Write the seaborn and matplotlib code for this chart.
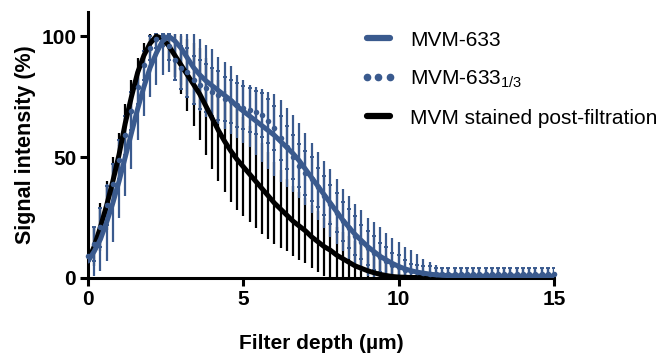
import numpy as np
import pandas as pd
import matplotlib
matplotlib.use("Agg")
import matplotlib.pyplot as plt
from matplotlib.lines import Line2D
import seaborn as sns

# ---- data ----
depth = np.round(np.arange(0, 15.01, 0.2), 1)  # filter depth grid (µm)

post_mean = [7, 13, 21, 30, 40, 51, 64, 75, 85, 92, 97, 100,
             99, 96, 92, 88, 84, 80, 76, 71, 66, 61,
             56.5, 52.5, 49, 46, 43, 40, 37, 34, 31, 28.5,
             26, 23.5, 21.5, 19.5, 17, 15, 13, 11.5, 9.5, 8,
             6.5, 5, 4, 3, 2.2, 1.5, 1, 0.6, 0.4, 0.3] + [0.2] * 24
post_err = [6, 8, 10, 10, 10, 9, 8, 7, 6, 5, 4, 3,
            4, 6, 9, 12, 15, 17, 19, 20, 21, 21,
            21, 21, 21, 20.5, 20, 19.5, 19, 18, 17, 16,
            15, 14.5, 14, 13.5, 13, 12.5, 12, 12, 11.5, 11,
            11, 10.5, 10, 10, 9.5, 9, 8, 6, 4, 2] + [1] + [0.5] * 23

mvm_mean = [7, 11, 16, 23, 31, 40, 50, 60, 70, 79, 87, 93,
            98, 100, 98, 95, 91, 87, 84, 81.5, 79.5, 77.5,
            75.5, 73.5, 71, 69, 67, 65, 63, 61, 59, 56.5,
            54, 51.5, 48.5, 45, 41.5, 38, 34.5, 31, 27.5, 24,
            21, 18, 15.5, 13, 11, 9, 7.5, 6, 4.8, 3.8] + \
           [3, 2.4, 2, 1.6, 1.3, 1.1, 1, 0.9, 0.9] + [0.8] * 15
mvm_err = [8, 10, 13, 16, 16, 15, 16, 15, 13, 12, 12, 13,
           14, 15, 15, 15, 15, 15, 15, 15, 15, 14,
           14, 14, 13, 13, 13, 14, 15, 16, 17, 17,
           16.5, 16, 15.5, 15, 14.5, 14, 14, 14, 13.5, 13,
           13, 12.5, 12.5, 12, 12, 12, 11, 10.5, 10, 9] + \
          [8.5, 7.5, 6, 5, 4, 3.5] + [3] * 18

third_mean = [9, 14, 21, 30, 39, 49, 59, 69, 79, 88, 95, 99,
              100, 96, 90, 87, 85, 82, 80, 78.5, 77, 75.5,
              74, 73, 71.5, 70.5, 69.5, 68.5, 67.5, 65, 62, 58,
              54, 50, 46.5, 43.5, 41, 37.5, 34, 30.5, 27, 23.5,
              20.5, 17.5, 15, 12.5, 10.5, 8.5, 7, 5.5, 4.5, 3.5] + \
             [2.8, 2.3, 2, 1.8, 1.6] + [1.5] * 19
third_err = [6, 7, 8, 8, 8, 8, 8, 8, 7, 6, 5, 4,
             4, 6, 8, 9, 10, 10, 10, 10, 10, 10,
             9, 9, 9, 9, 9, 9, 9, 9, 9, 9,
             9, 9, 9, 9, 9, 8, 8, 8, 8, 8,
             8, 8, 7, 7, 7, 6, 6, 5, 5, 4] + [3, 3, 3, 3] + [2.5] * 20

series_names = ["MVM-633", "MVM-633$_{1/3}$", "MVM stained post-filtration"]
x_ticks = [0, 5, 10, 15]
y_ticks = [0, 50, 100]

BLUE = "#3A5A8E"
BLACK = "#000000"

df = pd.DataFrame({
    "depth": np.concatenate([depth, depth, depth]),
    "signal": np.concatenate([mvm_mean, third_mean, post_mean]),
    "err": np.concatenate([mvm_err, third_err, post_err]),
    "series": np.repeat(series_names, len(depth)),
})

sns.set_theme(style="ticks")
plt.rcParams["font.family"] = ["Liberation Sans", "DejaVu Sans"]
plt.rcParams["mathtext.fontset"] = "custom"
plt.rcParams["mathtext.rm"] = "Liberation Sans"
plt.rcParams["mathtext.it"] = "Liberation Sans:italic"
plt.rcParams["mathtext.bf"] = "Liberation Sans:bold"
plt.rcParams["text.color"] = "black"
plt.rcParams["axes.labelcolor"] = "black"

fig = plt.figure(figsize=(6.71, 3.53), dpi=100)
ax = fig.add_axes([0.1311, 0.2125, 0.6945, 0.7535])


def bars(name, color, z, cap):
    d = df[df["series"] == name]
    m = d["signal"].to_numpy()
    e = d["err"].to_numpy()
    upper = np.minimum(e, np.maximum(0, 101 - m))
    ax.errorbar(d["depth"], m, yerr=[e, upper], fmt="none", ecolor=color,
                elinewidth=1.6, capsize=cap, capthick=1.4, zorder=z)


bars("MVM stained post-filtration", BLACK, 1, 0)
bars("MVM-633", BLUE, 2, 0)
bars("MVM-633$_{1/3}$", BLUE, 2.5, 1.6)

sns.lineplot(data=df[df["series"] == "MVM stained post-filtration"], x="depth", y="signal",
             color=BLACK, linewidth=3.6, ax=ax, zorder=3, legend=False)
sns.lineplot(data=df[df["series"] == "MVM-633"], x="depth", y="signal",
             color=BLUE, linewidth=3.6, ax=ax, zorder=4, legend=False)
sns.scatterplot(data=df[df["series"] == "MVM-633$_{1/3}$"], x="depth", y="signal",
                color=BLUE, s=16, linewidth=0, ax=ax, zorder=5, legend=False, clip_on=False)

ax.set_xlim(0, 15)
ax.set_ylim(0, 110)
ax.set_xticks(x_ticks)
ax.set_yticks(y_ticks)
for s in ["top", "right"]:
    ax.spines[s].set_visible(False)
for s in ["left", "bottom"]:
    ax.spines[s].set_linewidth(2.2)
    ax.spines[s].set_color("black")
ax.tick_params(axis="both", length=6, width=2.2, color="black", pad=2.5,
               labelsize=15, labelcolor="black")
for lab in ax.get_xticklabels() + ax.get_yticklabels():
    lab.set_fontweight("bold")

ax.set_xlabel("Filter depth (µm)", fontsize=15, fontweight="bold", labelpad=18, color="black")
ax.set_ylabel("Signal intensity (%)", fontsize=15.5, fontweight="bold", labelpad=4, color="black")

handles = [
    Line2D([], [], color=BLUE, linewidth=4.5, solid_capstyle="round"),
    Line2D([], [], color=BLUE, linestyle="none", marker="o", markersize=4.5),
    Line2D([], [], color=BLACK, linewidth=4.5, solid_capstyle="round"),
]
fig.legend(handles, series_names, loc="upper left", bbox_to_anchor=(0.538, 0.913),
           frameon=False, fontsize=15, handlelength=1.68, handletextpad=0.67,
           labelspacing=0.9, numpoints=3, borderpad=0, borderaxespad=0)

fig.savefig("out.png", dpi=100)
